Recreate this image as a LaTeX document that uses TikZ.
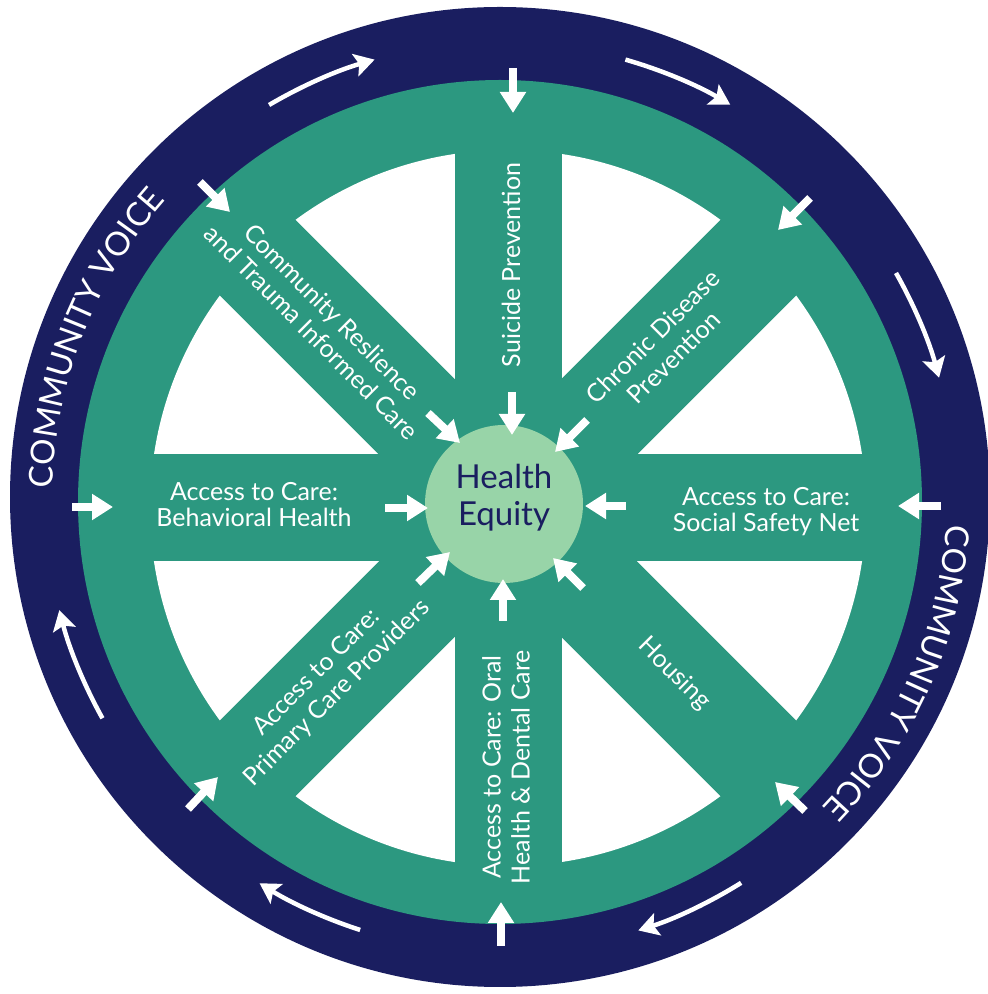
\documentclass[tikz,border=0pt]{standalone}
\usepackage{fontspec}
\setmainfont{Lato}
\usetikzlibrary{arrows.meta,decorations.text}
\definecolor{navy}{RGB}{26,30,96}
\definecolor{wheelteal}{RGB}{44,152,128}
\definecolor{hubgreen}{RGB}{152,212,168}
\newcommand\ringfont{\fontsize{33}{33}\selectfont\color{white}}
\begin{document}
\begin{tikzpicture}[x=1pt,y=1pt,
  sarrow/.style={white, line width=8pt, -{Triangle[width=25pt,length=21pt]}},
  carrow/.style={white, line width=4.5pt, -{Stealth[width=23pt,length=20pt,inset=4pt]}},
  spoketext/.style={text=white, align=center, inner sep=0pt, font=\fontsize{25}{26}\selectfont},
  widetext/.style={spoketext, font=\fontsize{25}{29}\selectfont},
  ringtext/.style={decorate, decoration={text along path, text={|\ringfont|COMMUNITY VOICE}, text align=center}}
]
\useasboundingbox (0,0) rectangle (988,994);
\fill[white] (0,0) rectangle (988,994);
\coordinate (nc) at (500,497);
\coordinate (tc) at (500,492);
\coordinate (wc) at (508,486);
\coordinate (hc) at (504,490);
% rings
\fill[navy] (nc) circle[radius=490];
\fill[wheelteal] (tc) circle[radius=422];
\fill[white] (wc) circle[radius=358];
% spokes
\foreach \a in {0,45,90,135}
  \draw[wheelteal, line width=107pt] (wc) ++(\a:372) -- ++(\a+180:744);
% hub
\node[circle, fill=hubgreen, minimum size=158pt, inner sep=0pt] (hub) at (hc) {};
\node[text=navy, align=center, inner sep=0pt, font=\fontsize{33}{37}\selectfont] (hubtext) at (504,496) {Health\\Equity};
% spoke labels
\node[spoketext, rotate=90] (s1) at (511,729) {Suicide Prevention};
\node[widetext, rotate=45] (s2) at (663,647) {Chronic Disease\\Prevention};
\node[spoketext] (s3) at (766,482) {Access to Care:\\Social Safety Net};
\node[spoketext, rotate=-45] (s4) at (674,320) {Housing};
\node[widetext, rotate=90] (s5) at (506,227) {Access to Care: Oral\\Health \& Dental Care};
\node[widetext, rotate=45] (s6) at (327,311) {Access to Care:\\Primary Care Providers};
\node[spoketext] (s7) at (254,489) {Access to Care:\\Behavioral Health};
\node[widetext, rotate=-45] (s8) at (322,672) {Community Reslience\\and Trauma Informed Care};
% straight arrows
\foreach \n/\xa/\ya/\xb/\yb in {
  oT/513/926/513/881, oL/72/487/113/487, oR/941/488/898/488, oB/501/48/501/92,
  oNW/200/812/230/782, oNE/810/796/778/764, oSE/805/183/775/212, oSW/188/185/218/217,
  iT/512/602/512/559, iL/385/486/428/486, iR/626/488/585/488, iB/503/373/503/415,
  iNW/428/581/460/551, iNE/587/574/555/542, iSW/418/411/450/442, iSE/583/406/553/436}
{
  \coordinate (\n-s) at (\xa,\ya);
  \coordinate (\n-e) at (\xb,\yb);
  \draw[sarrow] (\n-s) -- (\n-e);
}
% curved arrows
\foreach \sa/\ea in {120.5/106, 74/59.6, 29.5/15.2, -58/-72.3, -107.9/-121.9, -150.9/-165.6}
  \draw[carrow] (nc) ++(\sa:455) arc[start angle=\sa, end angle=\ea, radius=455];
% ring texts
\path[ringtext] (nc) ++(191.6:447) arc[start angle=191.6, end angle=125.6, radius=447];
\path[ringtext] (nc) ++(9.25:447) arc[start angle=9.25, end angle=-56.75, radius=447];
\end{tikzpicture}
\end{document}
